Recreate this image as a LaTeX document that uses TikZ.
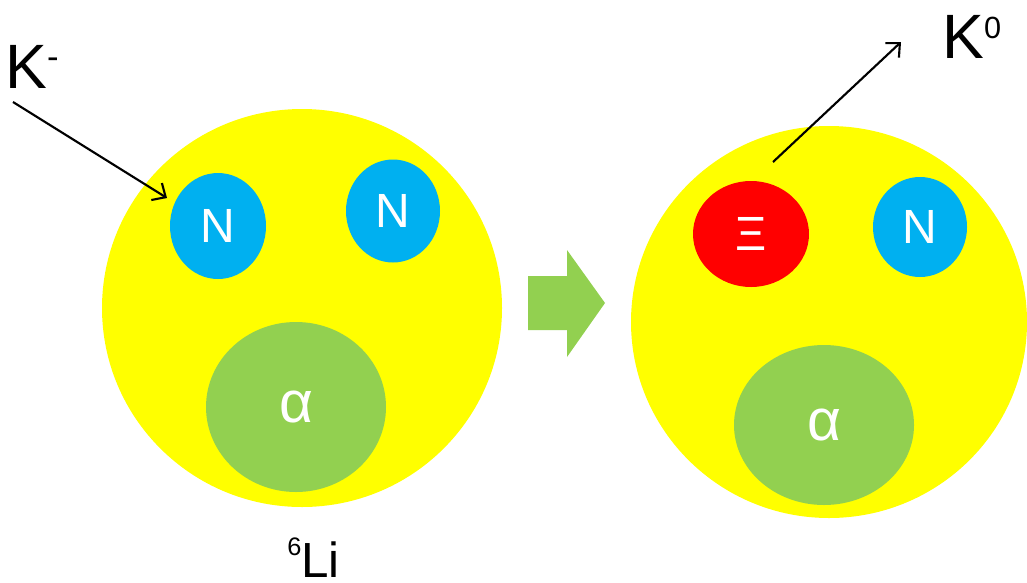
\documentclass[tikz,border=0pt]{standalone}
\usepackage{fontspec}
\setmainfont{Liberation Sans}
\usetikzlibrary{shapes.geometric,arrows.meta}
\definecolor{nucleus}{HTML}{FFFF00}
\definecolor{nucleon}{HTML}{00B0F0}
\definecolor{xired}{HTML}{FF0000}
\definecolor{alphagreen}{HTML}{92D050}
\tikzset{
  blob/.style={ellipse, inner sep=0pt, text=white, font=\fontsize{36}{36}\selectfont},
  nucleusblob/.style={blob, fill=nucleus},
  nucleonblob/.style={blob, fill=nucleon},
  xiblob/.style={blob, fill=xired},
  alphablob/.style={blob, fill=alphagreen, font=\fontsize{44}{44}\selectfont},
  particle/.style={anchor=base west, inner sep=0pt, font=\fontsize{47}{47}\selectfont},
  track/.style={line width=1.6pt, -{Straight Barb[length=8pt,width=15pt,line width=1.6pt]}},
}
\begin{document}
\begin{tikzpicture}[x=0.75pt, y=-0.75pt]
  \useasboundingbox (0,0) rectangle (1027,582);

  % initial state: 6Li nucleus
  \node[nucleusblob, minimum width={400*0.75pt}, minimum height={398*0.75pt}] (li) at (302,308) {};
  \node[nucleonblob, minimum width={96*0.75pt}, minimum height={106*0.75pt}] (n1) at (218,226) {N};
  \node[nucleonblob, minimum width={94*0.75pt}, minimum height={103*0.75pt}] (n2) at (393,211) {N};
  \node[alphablob, minimum width={180*0.75pt}, minimum height={170*0.75pt}] (a1) at (296,407) {α};
  \node[anchor=base west, inner sep=0pt, font=\fontsize{37}{37}\selectfont] (lilabel) at (287,577)
    {\raisebox{16pt}{\fontsize{19}{19}\selectfont 6}Li};

  % final state after the conversion
  \node[nucleusblob, minimum width={396*0.75pt}, minimum height={392*0.75pt}] (nuc) at (829,322) {};
  \node[xiblob, minimum width={116*0.75pt}, minimum height={106*0.75pt}] (xi) at (751,234) {Ξ};
  \node[nucleonblob, minimum width={94*0.75pt}, minimum height={100*0.75pt}] (n3) at (920,227) {N};
  \node[alphablob, minimum width={180*0.75pt}, minimum height={160*0.75pt}] (a2) at (824,425) {α};

  % reaction arrow
  \fill[alphagreen] (528,276) -- (567,276) -- (567,250) -- (605,303) -- (567,357)
    -- (567,330) -- (528,330) -- cycle;

  % incoming and outgoing kaons
  \node[particle] (km) at (5,88) {K\raisebox{15pt}{\fontsize{26}{26}\selectfont -}};
  \node[particle] (k0) at (942,58) {K\raisebox{14.3pt}{\fontsize{23}{23}\selectfont 0}};
  \coordinate (kmstart) at (13,102);
  \coordinate (kmend) at (167,198);
  \coordinate (k0start) at (773,162);
  \coordinate (k0end) at (901,42);
  \draw[track] (kmstart) -- (kmend);
  \draw[track] (k0start) -- (k0end);
\end{tikzpicture}
\end{document}
